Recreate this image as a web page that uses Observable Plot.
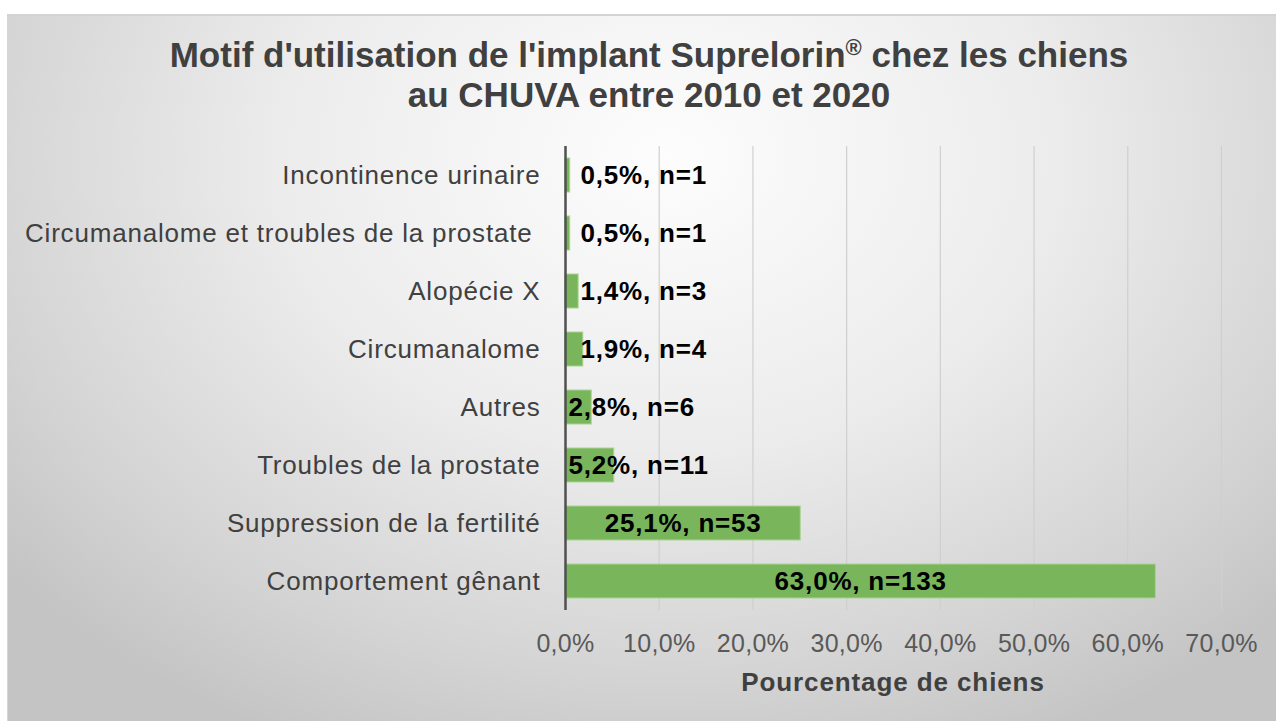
<!DOCTYPE html>
<html>
<head>
<meta charset="utf-8">
<script src="https://cdn.jsdelivr.net/npm/d3@7"></script>
<script src="https://cdn.jsdelivr.net/npm/@observablehq/plot@0.6"></script>
<style>
  html, body { margin: 0; padding: 0; background: #ffffff; width: 1276px; height: 721px; overflow: hidden; }
  #box { position: absolute; left: 7px; top: 14px; width: 1269px; height: 707px;
         background: radial-gradient(ellipse 68% 92% at 52% 20%, #fdfdfd 0%, #ececec 45%, #d4d4d4 80%, #c4c4c4 100%);
         border-top: 2px solid #d3d3d3; border-left: 1px solid #d6d6d6; box-sizing: border-box; }
  #title { position: absolute; left: 0; top: 35px; width: 1298px; text-align: center;
           font-family: "Liberation Sans", Arial, sans-serif; font-weight: bold; font-size: 35px;
           line-height: 40px; color: #404040; }
  #title sup { font-size: 22px; line-height: 0; vertical-align: 0.55em; }
  #chart { position: absolute; left: 0; top: 0; }
  #xtitle { position: absolute; left: 565px; width: 656px; top: 667px; text-align: center;
            font-family: "Liberation Sans", Arial, sans-serif; font-weight: bold; font-size: 26px;
            letter-spacing: 0.9px; color: #404040; }
  #chart g[aria-label="y-axis tick label"] text { letter-spacing: 0.8px; }
  #chart g[aria-label="text"] text { letter-spacing: 0.8px; }
  #chart g[aria-label="x-axis tick label"] text { letter-spacing: 0.3px; }
</style>
</head>
<body>
<div id="box"></div>
<div id="title">Motif d'utilisation de l'implant Suprelorin<sup>®</sup> chez les chiens<br>au CHUVA entre 2010 et 2020</div>
<div id="chart"></div>
<div id="xtitle">Pourcentage de chiens</div>
<script>
const categories = [
  "Incontinence urinaire",
  "Circumanalome et troubles de la prostate\u00a0",
  "Alopécie X",
  "Circumanalome",
  "Autres",
  "Troubles de la prostate",
  "Suppression de la fertilité",
  "Comportement gênant"
];
const percentages = [0.5, 0.5, 1.4, 1.9, 2.8, 5.2, 25.1, 63.0];
const counts = [1, 1, 3, 4, 6, 11, 53, 133];
const xTicks = [0, 10, 20, 30, 40, 50, 60, 70];

const data = categories.map((c, i) => ({cat: c, value: percentages[i], n: counts[i]}));
const fmt = v => v.toFixed(1).replace(".", ",") + "%";
const label = d => fmt(d.value) + ", n=" + d.n;

const plot = Plot.plot({
  width: 1276,
  height: 721,
  marginLeft: 565,
  marginRight: 55,
  marginTop: 146,
  marginBottom: 111,
  style: {background: "transparent", fontFamily: "'Liberation Sans', Arial, sans-serif", fontSize: "25px", color: "#404040"},
  x: {domain: [0, 70]},
  y: {domain: categories, paddingInner: 0.41, paddingOuter: 0.205},
  marks: [
    Plot.ruleX(xTicks.filter(t => t > 0), {stroke: "#cfcfcf", strokeWidth: 1.2}),
    Plot.barX(data, {x: "value", y: "cat", fill: "#79b55b", stroke: "#aad393", strokeWidth: 1}),
    Plot.ruleX([0], {stroke: "#505050", strokeWidth: 2.5}),
    Plot.text(data.filter(d => d.value > 20), {x: d => d.value / 2, y: "cat", text: label, textAnchor: "middle", fontWeight: "bold", fontSize: 26, fill: "#000"}),
    Plot.text(data.filter(d => d.value <= 2), {x: 0, y: "cat", text: label, textAnchor: "start", dx: 15, fontWeight: "bold", fontSize: 26, fill: "#000"}),
    Plot.text(data.filter(d => d.value > 2 && d.value <= 20), {x: 0, y: "cat", text: label, textAnchor: "start", dx: 3, fontWeight: "bold", fontSize: 26, fill: "#000"}),
    Plot.axisX({ticks: xTicks, tickFormat: fmt, tickSize: 0, tickPadding: 24, label: null, fill: "#595959", fontSize: 25}),
    Plot.axisY({tickSize: 0, tickPadding: 25, label: null, fill: "#404040", fontSize: 26})
  ]
});
document.getElementById("chart").appendChild(plot);
</script>
</body>
</html>
